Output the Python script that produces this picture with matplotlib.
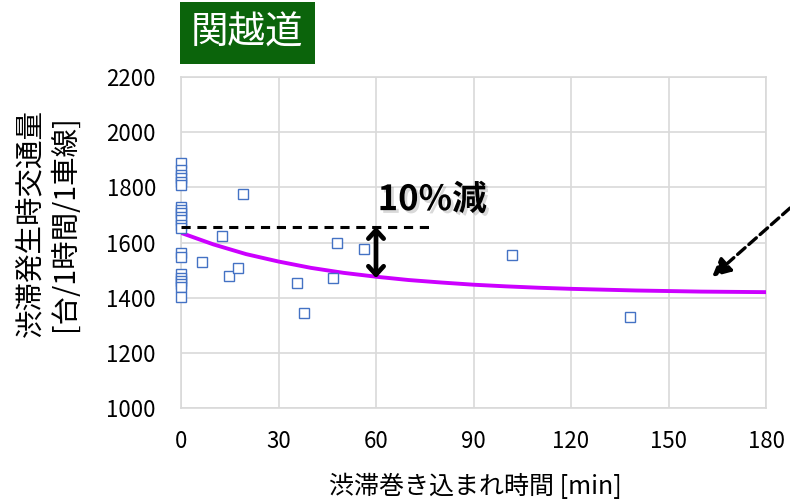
import matplotlib
matplotlib.use("Agg")
import matplotlib.pyplot as plt
import matplotlib.patheffects as pe

plt.rcParams['font.family'] = ['Noto Sans CJK JP', 'DejaVu Sans']

# observed points: congestion time [min] vs. traffic volume at congestion onset
xData = [0, 0, 0, 0, 0, 0,
         0, 0, 0, 0, 0, 0, 0,
         0, 0,
         0, 0, 0, 0, 0, 0,
         6.4, 12.6, 14.7, 17.5, 19.2, 35.6, 37.9, 46.7, 48.1, 56.3, 101.9, 138.2]
yData = [1888, 1862, 1844, 1833, 1819, 1808,
         1730, 1718, 1706, 1694, 1681, 1663, 1652,
         1562, 1549,
         1486, 1473, 1460, 1449, 1437, 1402,
         1528, 1624, 1477, 1507, 1776, 1452, 1345, 1472, 1599, 1575, 1553, 1331]

# fitted curve
curveX = [0, 10, 20, 30, 40, 50, 60, 70, 80, 90, 100, 110, 120, 140, 160, 180]
curveY = [1635, 1593, 1558, 1531, 1508, 1490, 1476, 1464, 1455, 1447, 1441, 1436, 1432, 1426, 1422, 1420]

refLevel = 1656
xTicks = [0, 30, 60, 90, 120, 150, 180]
yTicks = [1000, 1200, 1400, 1600, 1800, 2000, 2200]

fig = plt.figure(figsize=(7.9, 4.99), dpi=100)
ax = fig.add_axes([181 / 790, 1 - 408 / 499, 585 / 790, 331 / 499])

ax.set_xlim(0, 180)
ax.set_ylim(1000, 2200)
ax.set_xticks(xTicks)
ax.set_yticks(yTicks)
ax.grid(True, color="#d9d9d9", linewidth=1.2)
ax.set_axisbelow(True)
for s in ax.spines.values():
    s.set_color("#d9d9d9")
    s.set_linewidth(1.2)
ax.tick_params(axis="both", length=0, labelsize=16)
ax.tick_params(axis="y", pad=18)
ax.tick_params(axis="x", pad=16)

ax.plot(curveX, curveY, color="#cc00ff", linewidth=2.8, zorder=3)
ax.plot(xData, yData, linestyle="none", marker="s", markersize=7,
        markerfacecolor="white", markeredgecolor="#4472c4", markeredgewidth=1.0,
        clip_on=False, zorder=4)

ax.plot([0, 77.4], [refLevel, refLevel], color="black", linewidth=2.2,
        linestyle=(0, (3, 2.2)), zorder=5)
ax.annotate("", xy=(60, 1471), xytext=(60, refLevel + 1),
            arrowprops=dict(arrowstyle="<->,head_length=0.6,head_width=0.55",
                            color="black", lw=3.4, shrinkA=0, shrinkB=0), zorder=6)

t = ax.text(60.5, 1692, "10%減", fontsize=25, fontweight="bold", ha="left", va="bottom", zorder=6)
t.set_path_effects([pe.SimplePatchShadow(offset=(2, -2), alpha=0.15), pe.Normal()])

ax.annotate("", xy=(163.4, 1475), xytext=(187.4, 1725), annotation_clip=False,
            arrowprops=dict(arrowstyle="-|>,head_length=1.1,head_width=0.55",
                            color="black", lw=2.4, linestyle=(0, (3, 1.5)),
                            shrinkA=0, shrinkB=0))

fig.text(247 / 790, 1 - 33 / 499, "関越道", fontsize=27, color="white", ha="center", va="center",
         bbox=dict(boxstyle="square,pad=0.3", facecolor="#0b640b", edgecolor="none"))

fig.text(48 / 790, 1 - 223 / 499, "渋滞発生時交通量\n[台/1時間/1車線]", fontsize=20.5, rotation=90,
         ha="center", va="center", multialignment="center", linespacing=1.2)
fig.text(475 / 790, 1 - 487 / 499, "渋滞巻き込まれ時間 [min]", fontsize=18, ha="center", va="center")

fig.savefig("out.png", dpi=100)
